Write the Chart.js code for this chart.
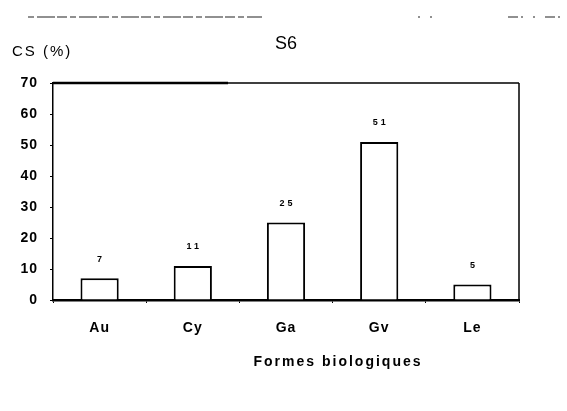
<!DOCTYPE html>
<html lang="fr">
<head>
<meta charset="UTF-8">
<title>S6</title>
<style>
  html, body { margin: 0; padding: 0; background: #fff; }
  canvas { display: block; }
</style>
</head>
<body>
<canvas id="canvas" width="567" height="411"></canvas>
<script src="https://cdn.jsdelivr.net/npm/chart.js"></script>
<script>
// data
const categories = ['Au', 'Cy', 'Ga', 'Gv', 'Le'];
const values = [7, 11, 25, 51, 5];
const yMin = 0, yMax = 70, yStep = 10;

const chartTitle = 'S6';
const yTitle = 'CS (%)';
const xTitle = 'Formes biologiques';

const FONT = '"Liberation Sans", Arial, sans-serif';

// free texts, value labels, frame and the scan leftovers
const extras = {
  id: 'extras',
  beforeDraw(chart) {
    chart.ctx.letterSpacing = '1px';
  },
  afterDraw(chart) {
    const ctx = chart.ctx;
    const a = chart.chartArea;
    const x = chart.scales.x, y = chart.scales.y;
    ctx.save();
    ctx.strokeStyle = '#000';
    ctx.fillStyle = '#000';

    // frame: top and right edges
    ctx.lineWidth = 1.5;
    ctx.beginPath();
    ctx.moveTo(a.left, a.top); ctx.lineTo(a.right, a.top);
    ctx.moveTo(a.right, a.top); ctx.lineTo(a.right, a.bottom);
    ctx.stroke();
    ctx.lineWidth = 2.5;
    ctx.beginPath();
    ctx.moveTo(a.left, a.top); ctx.lineTo(228, a.top);
    ctx.stroke();

    // value labels above bars
    ctx.font = 'bold 9px ' + FONT;
    ctx.letterSpacing = '3px';
    ctx.textAlign = 'center';
    ctx.textBaseline = 'middle';
    values.forEach((v, i) => {
      ctx.fillText(String(v), x.getPixelForValue(i) + 1.5, y.getPixelForValue(v) - 19);
    });

    // titles
    ctx.letterSpacing = '0px';
    ctx.font = '18px ' + FONT;
    ctx.fillText(chartTitle, 286, 44);
    ctx.font = '15px ' + FONT;
    ctx.letterSpacing = '2px';
    ctx.textAlign = 'left';
    ctx.fillText(yTitle, 12, 52);
    ctx.font = 'bold 14px ' + FONT;
    ctx.letterSpacing = '2px';
    ctx.textAlign = 'center';
    ctx.fillText(xTitle, 338, 362);

    // scanned leftovers of the previous figure
    ctx.letterSpacing = '0px';
    ctx.strokeStyle = '#222';
    ctx.lineWidth = 1.2;
    ctx.setLineDash([6, 3, 18, 2, 10, 3]);
    ctx.beginPath();
    ctx.moveTo(28, 17); ctx.lineTo(262, 17);
    ctx.stroke();
    ctx.setLineDash([2, 10]);
    ctx.beginPath();
    ctx.moveTo(418, 17); ctx.lineTo(442, 17);
    ctx.stroke();
    ctx.setLineDash([10, 3, 2, 10, 2, 10]);
    ctx.beginPath();
    ctx.moveTo(508, 17); ctx.lineTo(567, 17);
    ctx.stroke();
    ctx.restore();
  }
};

new Chart(document.getElementById('canvas').getContext('2d'), {
  type: 'bar',
  data: {
    labels: categories,
    datasets: [{
      data: values,
      backgroundColor: '#fff',
      borderColor: '#000',
      borderWidth: 2,
      borderSkipped: 'bottom',
      barPercentage: 0.41,
      categoryPercentage: 1
    }]
  },
  options: {
    responsive: false,
    animation: false,
    layout: { padding: { top: 83, right: 48, bottom: 0, left: 0 } },
    plugins: {
      legend: { display: false },
      title: { display: false },
      tooltip: { enabled: false }
    },
    scales: {
      x: {
        grid: { display: true, drawOnChartArea: false, tickLength: 3, color: '#000', offset: true },
        border: { display: true, color: '#000', width: 2.5 },
        ticks: { color: '#000', padding: 17, font: { family: FONT, size: 14, weight: 'bold' } },
        afterFit(s) { s.height = 111; }
      },
      y: {
        min: yMin,
        max: yMax,
        grid: { display: true, drawOnChartArea: false, tickLength: 3, color: '#000' },
        border: { display: true, color: '#000', width: 1.5 },
        ticks: { stepSize: yStep, color: '#000', padding: 12, font: { family: FONT, size: 14, weight: 'bold' } },
        afterFit(s) { s.width = 53; }
      }
    }
  },
  plugins: [extras]
});
</script>
</body>
</html>
